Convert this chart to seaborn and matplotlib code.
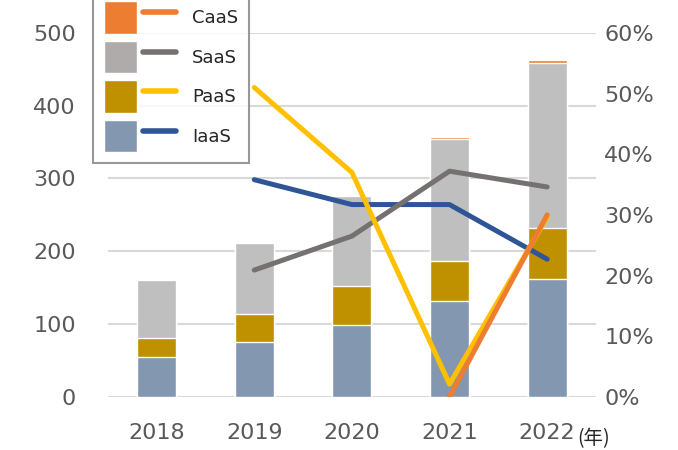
import numpy as np
import pandas as pd
import matplotlib
matplotlib.use('Agg')
import matplotlib.pyplot as plt
import seaborn as sns
from matplotlib.patches import Patch
from matplotlib.lines import Line2D
from matplotlib.legend_handler import HandlerTuple

# ── data ──
years = ['2018', '2019', '2020', '2021', '2022']
iaas = [55, 76, 99, 132, 162]
paas = [26, 38, 53, 54, 70]
saas = [80, 97, 124, 168, 227]
caas = [0, 0, 0, 3, 4]

line_years = ['2019', '2020', '2021', '2022']
iaas_growth = [35.8, 31.7, 31.7, 22.7]
saas_growth = [20.9, 26.5, 37.2, 34.6]
paas_growth = [51.0, 37.0, 2.1, 29.6]
caas_years = ['2021', '2022']
caas_growth = [0.0, 30.0]

# colours
bar_col = {'IaaS': '#8497B0', 'PaaS': '#BF9000', 'SaaS': '#BFBFBF', 'CaaS': '#ED7D31'}
leg_bar = {'IaaS': '#8497B0', 'PaaS': '#BF9000', 'SaaS': '#AFABAB', 'CaaS': '#ED7D31'}
line_col = {'IaaS': '#2F5597', 'SaaS': '#767171', 'PaaS': '#FFC000', 'CaaS': '#ED7D31'}
txt = '#595959'

sns.set_style('white')
plt.rcParams['font.family'] = ['DejaVu Sans', 'Noto Sans CJK JP']

fig = plt.figure(figsize=(6.78, 4.5), dpi=100)
ax = fig.add_axes([0.159, 0.118, 0.72, 0.809])

df = pd.DataFrame({'year': years, 'IaaS': iaas, 'PaaS': paas, 'SaaS': saas, 'CaaS': caas})
cum = df[['IaaS', 'PaaS', 'SaaS', 'CaaS']].cumsum(axis=1)
cum['year'] = df['year']

# stacked bars: draw cumulative totals from the top layer down
for name in ['CaaS', 'SaaS', 'PaaS', 'IaaS']:
    sns.barplot(data=cum, x='year', y=name, color=bar_col[name], width=0.4,
                saturation=1, ax=ax, zorder=2)

ax.set_ylim(0, 500)
ax.set_xlim(-0.5, 4.5)
ax.set_yticks(range(0, 501, 100))
ax.yaxis.grid(True, color='#D9D9D9', linewidth=1.5, zorder=0)
ax.set_axisbelow(True)
ax.set_xlabel('')
ax.set_ylabel('')
for s in ax.spines.values():
    s.set_visible(False)
ax.tick_params(axis='both', length=0, labelsize=16, labelcolor=txt)
ax.tick_params(axis='x', pad=19)
ax.tick_params(axis='y', pad=23)

# growth lines on the right axis
ax2 = ax.twinx()
pos = {y: i for i, y in enumerate(years)}
for name, xs, ys in [('IaaS', line_years, iaas_growth),
                     ('SaaS', line_years, saas_growth),
                     ('PaaS', line_years, paas_growth),
                     ('CaaS', caas_years, caas_growth)]:
    sns.lineplot(x=[pos[y] for y in xs], y=ys, color=line_col[name], linewidth=3.6,
                 solid_capstyle='round', ax=ax2)
ax2.set_ylim(0, 60)
ax2.set_yticks(range(0, 61, 10))
ax2.set_yticklabels([f'{v}%' for v in range(0, 61, 10)])
ax2.set_xlim(-0.5, 4.5)
for s in ax2.spines.values():
    s.set_visible(False)
ax2.tick_params(axis='y', length=0, labelsize=16, labelcolor=txt, pad=6)

fig.text(0.852, 0.013, '(年)', fontsize=14, color='#262626',
         family=['Noto Sans CJK JP', 'DejaVu Sans'])

# legend: bar swatch + line sample for each series
names = ['CaaS', 'SaaS', 'PaaS', 'IaaS']
handles = [(Patch(facecolor=leg_bar[n]), Line2D([], [], color=line_col[n], linewidth=4))
           for n in names]
leg = fig.legend(handles, names, handler_map={tuple: HandlerTuple(ndivide=None, pad=0.3)},
                 loc='upper left', bbox_to_anchor=(0.137, 1.021), fontsize=13,
                 handlelength=4.0, handleheight=2.4, labelspacing=0.38, handletextpad=0.9,
                 borderpad=0.6, borderaxespad=0, frameon=True, fancybox=False)
leg.get_frame().set_edgecolor('#7F7F7F')
leg.get_frame().set_linewidth(1.5)
for t in leg.get_texts():
    t.set_color('#262626')

fig.savefig('out.png', dpi=100)
